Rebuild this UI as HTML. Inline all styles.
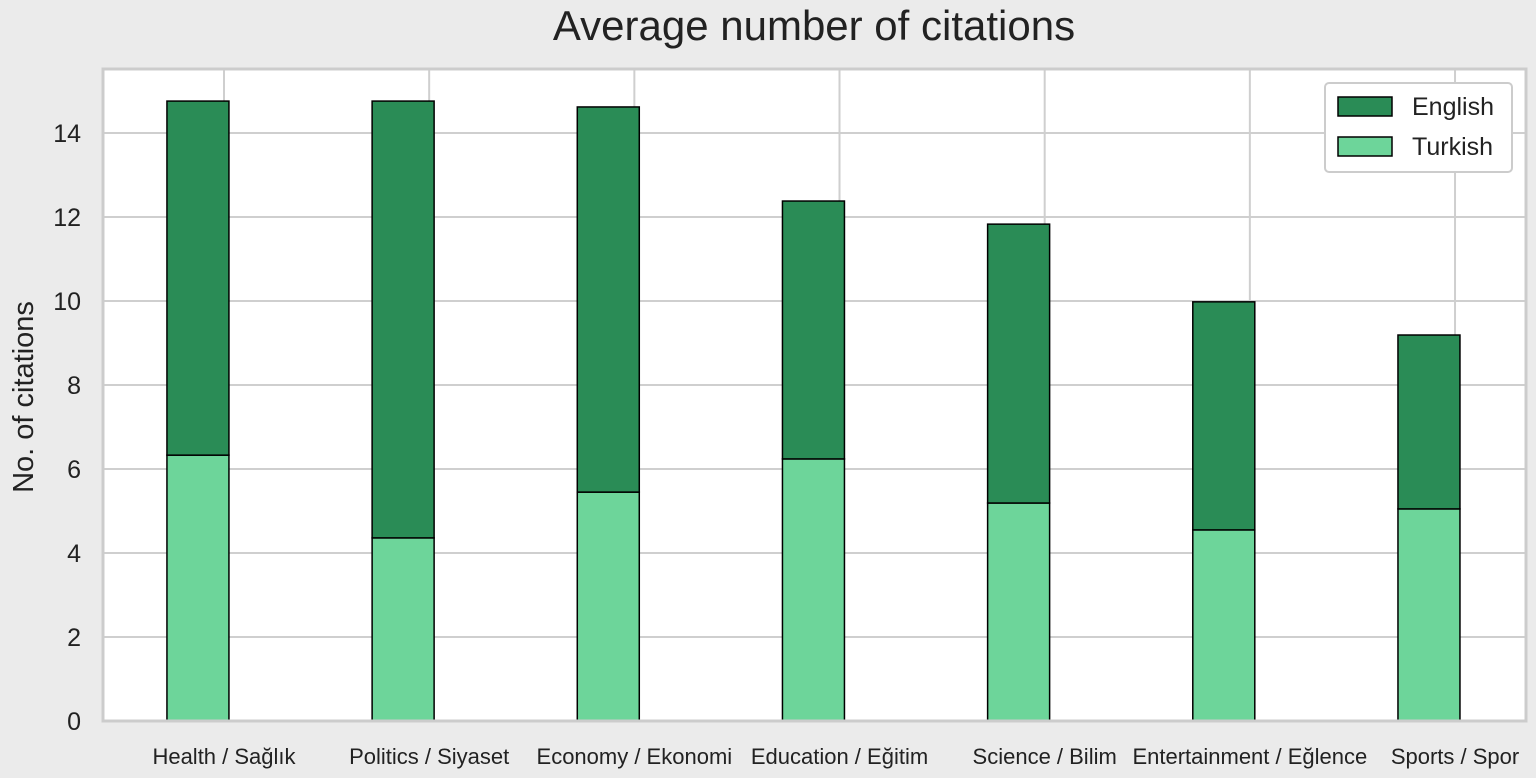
<!DOCTYPE html>
<html><head><meta charset="utf-8"><style>
body{margin:0;background:#ebebeb;}
svg{display:block;font-family:"Liberation Sans","DejaVu Sans",sans-serif;}
</style></head><body>
<svg id="c" width="1536" height="778">
<rect x="0" y="0" width="1536" height="778" fill="#ebebeb"/>
<text x="814" y="40" text-anchor="middle" font-size="42" fill="#222">Average number of citations</text>
<text transform="translate(33,397) rotate(-90)" text-anchor="middle" font-size="29" fill="#222">No. of citations</text>
<g id="plot"></g>
</svg>
<script>
const categories=["Health / Sağlık","Politics / Siyaset","Economy / Ekonomi","Education / Eğitim","Science / Bilim","Entertainment / Eğlence","Sports / Spor"];
const turkish=[6.33,4.36,5.45,6.24,5.19,4.55,5.05];
const english=[8.43,10.4,9.17,6.14,6.64,5.43,4.14];
const yTicks=[0,2,4,6,8,10,12,14];
const NS="http://www.w3.org/2000/svg";
const L=103,R=1526,T=69,B=721;
const x=v=>224+v*205.17;
const y=v=>721-v*42;
const g=document.getElementById('plot');
function mk(t,a){const e=document.createElementNS(NS,t);for(const k in a)e.setAttribute(k,a[k]);g.appendChild(e);return e;}
const bg=mk('rect',{x:L,y:T,width:R-L,height:B-T,fill:'#fff'});


yTicks.forEach(t=>{
 const l=mk('line',{x1:L,x2:R,y1:y(t),y2:y(t),stroke:'#cfcfcf','stroke-width':2});
 
 
 const tx=mk('text',{x:L-22,y:y(t)+9,'text-anchor':'end','font-size':25,fill:'#222'});
 tx.textContent=t;
 
 
});
categories.forEach((c,i)=>{
 const l=mk('line',{x1:x(i),x2:x(i),y1:T,y2:B,stroke:'#cfcfcf','stroke-width':2});
 
 
});
categories.forEach((c,i)=>{
 const cx=x(i-0.127),w=62;
 const b1=mk('rect',{x:cx-w/2,y:y(turkish[i]),width:w,height:y(0)-y(turkish[i]),fill:'#6dd59a',stroke:'#000','stroke-width':1.5});
 
 
 const top=turkish[i]+english[i];
 const b2=mk('rect',{x:cx-w/2,y:y(top),width:w,height:y(turkish[i])-y(top),fill:'#2a8c56',stroke:'#000','stroke-width':1.5});
 
 
 const tx=mk('text',{x:x(i),y:764,'text-anchor':'middle','font-size':22,fill:'#222'});
 tx.textContent=c;
 
 
});
const fr=mk('rect',{x:L,y:T,width:R-L,height:B-T,fill:'none',stroke:'#cccccc','stroke-width':3});


const lg=mk('rect',{x:1325,y:83,width:187,height:89,rx:4,fill:'#fff',stroke:'#ccc','stroke-width':2});


[['English','#2a8c56',97],['Turkish','#6dd59a',137]].forEach(([n,col,yy])=>{
 const s=mk('rect',{x:1338,y:yy,width:54,height:19,fill:col,stroke:'#000','stroke-width':1.5});
 
 
 const t=mk('text',{x:1412,y:yy+18,'font-size':25,fill:'#222'});
 t.textContent=n;
 
 
});
</script>
</body></html>
